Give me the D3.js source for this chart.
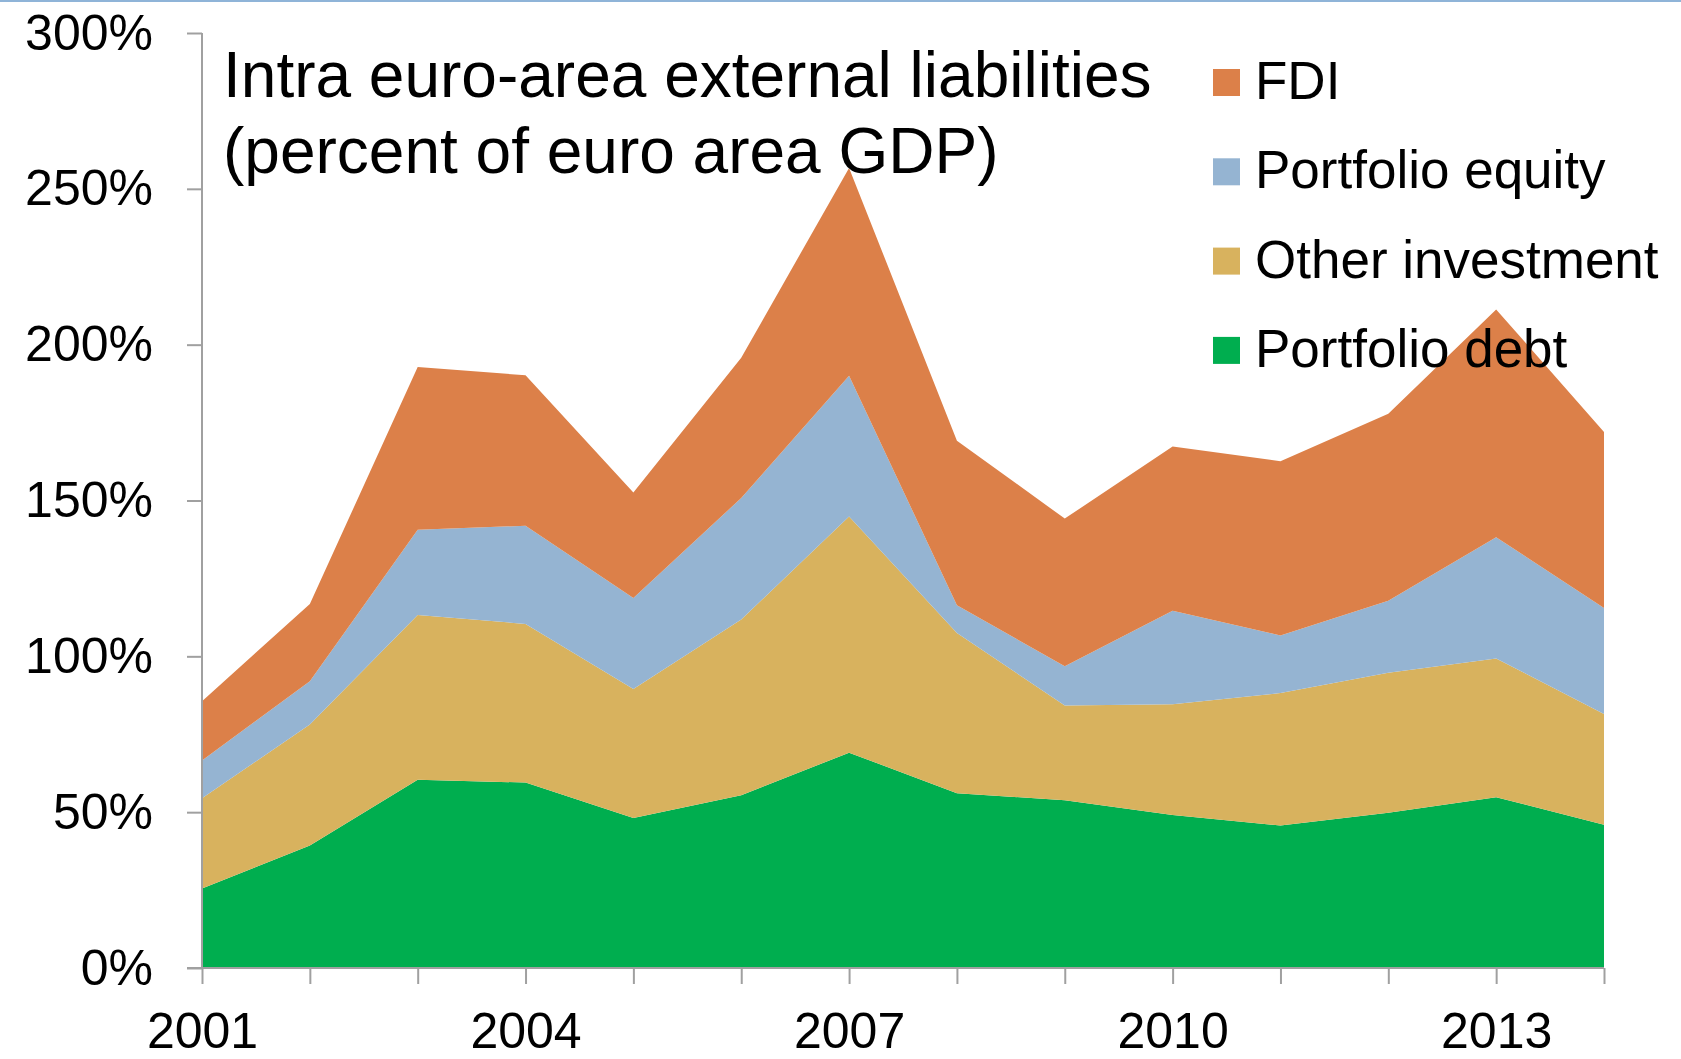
<!DOCTYPE html>
<html>
<head>
<meta charset="utf-8">
<script src="https://cdn.jsdelivr.net/npm/d3@7"></script>
<style>
  body { margin: 0; background: #fff; }
  svg text { font-family: "Liberation Sans", Arial, sans-serif; fill: #000; }
</style>
</head>
<body>
<div id="chart"></div>
<script>
// data, percent of euro area GDP
var years = [2001, 2002, 2003, 2004, 2005, 2006, 2007, 2008, 2009, 2010, 2011, 2012, 2013, 2014];
var portfolioDebt   = [25.5, 39.3, 60.4, 59.5, 48.1, 55.4, 69.1, 56.1, 53.8, 49.1, 45.7, 49.8, 54.8, 46.0];
var otherInvestment = [29.0, 38.8, 52.9, 50.9, 41.4, 56.4, 75.8, 51.4, 30.4, 35.5, 42.5, 44.9, 44.5, 35.5];
var portfolioEquity = [12.1, 13.9, 27.3, 31.5, 29.2, 39.0, 45.1, 8.9, 12.6, 30.0, 18.5, 23.1, 38.9, 34.0];
var fdi             = [19.0, 24.8, 52.2, 48.3, 33.9, 45.0, 66.7, 52.8, 47.4, 52.7, 55.9, 60.0, 73.1, 56.5];

var seriesNames = ["Portfolio debt", "Other investment", "Portfolio equity", "FDI"];
var seriesValues = [portfolioDebt, otherInvestment, portfolioEquity, fdi];
var seriesColors = ["#00ae4f", "#d8b25e", "#95b4d2", "#dc8049"];

var yTicks = [0, 50, 100, 150, 200, 250, 300];
var xLabelYears = [2001, 2004, 2007, 2010, 2013];
var titleLines = ["Intra euro-area external liabilities", "(percent of euro area GDP)"];

var width = 1681, height = 1059;
var margin = {top: 33, right: 77, bottom: 91, left: 202};

// one row per year for d3.stack
var rows = years.map(function(y, i) {
  var r = {year: y};
  seriesNames.forEach(function(k, j) { r[k] = seriesValues[j][i]; });
  return r;
});

var stacked = d3.stack().keys(seriesNames)(rows);

var x = d3.scaleLinear().domain([2001, 2014]).range([margin.left, width - margin.right]);
var y = d3.scaleLinear().domain([0, 300]).range([height - margin.bottom, margin.top]);

var svg = d3.select("#chart").append("svg")
  .attr("width", width)
  .attr("height", height);

// thin border line at the very top
svg.append("rect")
  .attr("x", 0).attr("y", 0)
  .attr("width", width).attr("height", 2)
  .attr("fill", "#8fb4d8");

var area = d3.area()
  .x(function(d) { return x(d.data.year); })
  .y0(function(d) { return y(d[0]); })
  .y1(function(d) { return y(d[1]); });

svg.selectAll(".layer")
  .data(stacked)
  .enter().append("path")
  .attr("class", "layer")
  .attr("d", area)
  .attr("fill", function(d, i) { return seriesColors[i]; });

// axes
var yAxis = svg.append("g")
  .attr("class", "axis axis-y")
  .attr("transform", "translate(" + margin.left + ",0)")
  .call(d3.axisLeft(y).tickValues(yTicks).tickSize(15).tickPadding(34)
    .tickFormat(function(d) { return d + "%"; }));

var xAxis = svg.append("g")
  .attr("class", "axis axis-x")
  .attr("transform", "translate(0," + y(0) + ")")
  .call(d3.axisBottom(x).tickValues(years).tickSize(16).tickPadding(28)
    .tickFormat(function(d) { return xLabelYears.indexOf(d) >= 0 ? d : ""; }));

svg.selectAll(".axis path, .axis line")
  .attr("stroke", "#a0a0a0")
  .attr("stroke-width", 2);
svg.selectAll(".axis text")
  .attr("font-size", 50)
  .attr("font-family", "Liberation Sans, Arial, sans-serif")
  .attr("fill", "#000");
yAxis.select(".domain").attr("d", "M0," + y(300) + "V" + y(0));
xAxis.select(".domain").attr("d", "M" + (margin.left - 15) + ",0H" + (width - margin.right));

// title
svg.selectAll(".title")
  .data(titleLines)
  .enter().append("text")
  .attr("class", "title")
  .attr("x", 223)
  .attr("y", function(d, i) { return 97 + i * 76; })
  .attr("font-size", 64)
  .text(function(d) { return d; });

// legend, top entry is FDI
var legendOrder = seriesNames.slice().reverse();
var legend = svg.selectAll(".legend")
  .data(legendOrder)
  .enter().append("g")
  .attr("class", "legend")
  .attr("transform", function(d, i) { return "translate(1213," + (69 + i * 89.3) + ")"; });

legend.append("rect")
  .attr("width", 27).attr("height", 27)
  .attr("fill", function(d) { return seriesColors[seriesNames.indexOf(d)]; });

legend.append("text")
  .attr("x", 42)
  .attr("y", 30)
  .attr("font-size", 53)
  .text(function(d) { return d; });
</script>
</body>
</html>
